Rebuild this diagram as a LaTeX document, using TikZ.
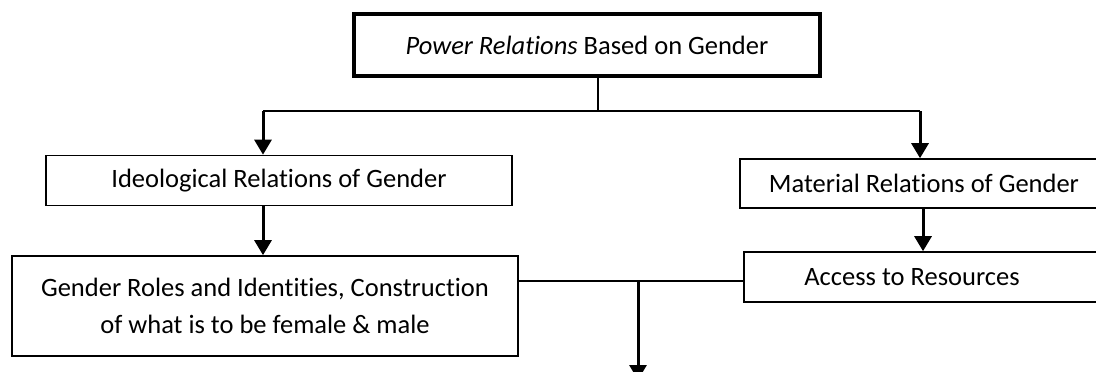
\documentclass[tikz,border=0pt]{standalone}
\usepackage{fontspec}
\setmainfont{Carlito}[Ligatures=NoCommon]
\usetikzlibrary{arrows.meta}

\begin{document}
\begin{tikzpicture}[x=1pt, y=-1pt,
		box/.style={draw, line width=1.6pt, inner sep=0pt, align=center, font=\fontsize{26.5}{37}\selectfont},
		headbox/.style={box, line width=4.5pt},
		link/.style={line width=1.8pt},
		arr/.style={line width=3pt, -{Triangle[length=15pt, width=17pt]}}]
			%%%%% START %%%%%
			
			\useasboundingbox (0, 0) rectangle (1096, 372);
			\clip (0, 0) rectangle (1096, 372);
			
			\node[headbox, minimum width=466pt, minimum height=62pt] (power) at (587, 45) {\textit{Power Relations} Based on Gender};
			
			\node[box, minimum width=466pt, minimum height=50pt] (ideo) at (279, 180.5) {Ideological Relations of Gender};
			\node[box, minimum width=368pt, minimum height=49pt] (mater) at (924, 183.5) {Material Relations of Gender};
			
			\node[box, minimum width=506pt, minimum height=100pt] (roles) at (265, 306) {Gender Roles and Identities, Construction\\of what is to be female \& male};
			\node[box, minimum width=366pt, minimum height=50pt] (access) at (927, 277) {Access to Resources\hspace{30pt}};
			
			\coordinate (fork) at (598, 111);
			\coordinate (lfork) at (263, 111);
			\coordinate (rfork) at (920, 111);
			\coordinate (mdrop) at (923, 230);
			\coordinate (join) at (638, 281);
			\coordinate (out) at (638, 380);
			
			\draw[link] (power.south -| fork) -- (fork);
			\draw[link] (lfork) -- (rfork);
			\draw[arr] (lfork) -- (lfork |- ideo.north);
			\draw[arr] (rfork) -- (rfork |- mater.north);
			
			\draw[arr] (ideo.south -| lfork) -- (roles.north -| lfork);
			\draw[arr] (mater.south -| mdrop) -- (access.north -| mdrop);
			
			\draw[link] (roles.east |- join) -- (access.west |- join);
			\draw[arr] (join) -- (out);
			
			%%%%% END %%%%%
		\end{tikzpicture}
\end{document}
